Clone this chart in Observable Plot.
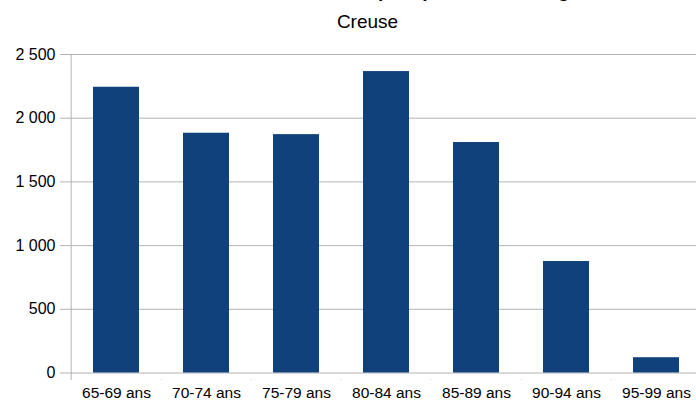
<!DOCTYPE html>
<html>
<head>
<meta charset="utf-8">
<script src="https://cdn.jsdelivr.net/npm/d3@7"></script>
<script src="https://cdn.jsdelivr.net/npm/@observablehq/plot@0.6"></script>
<style>
  html, body { margin: 0; padding: 0; background: #fff; }
  svg { display: block; }
</style>
</head>
<body>
<div id="chart"></div>
<script>
const categories = ["65-69 ans", "70-74 ans", "75-79 ans", "80-84 ans", "85-89 ans", "90-94 ans", "95-99 ans"];
const values = [2243, 1882, 1871, 2366, 1809, 875, 120];
const yTicks = [0, 500, 1000, 1500, 2000, 2500];
const title = "Personnes de 65 ans ou plus par tranche d'âge";
const subtitle = "Creuse";

const data = categories.map((c, i) => ({category: c, value: values[i]}));
const fmt = d3.formatLocale({decimal: ",", thousands: " ", grouping: [3], currency: ["", " €"]}).format(",d");

const W = 696, H = 401;
const mLeft = 68, bandW = 90.7;
const mTop = 54, yBottom = 372.5;
const frameH = yBottom - mTop;
const grid = "#b3b3b3";
const font = "'Liberation Sans', Arial, sans-serif";

const chart = Plot.plot({
  width: W,
  height: H,
  marginTop: mTop,
  marginBottom: H - yBottom,
  marginLeft: mLeft,
  marginRight: 0,
  style: {fontFamily: font, background: "#fff", color: "#000"},
  x: {domain: categories, range: [mLeft, mLeft + bandW * categories.length], paddingInner: 0.49, paddingOuter: 0.245, align: 0.5},
  y: {domain: [0, 2500]},
  marks: [
    Plot.ruleY(yTicks, {y: d => d, stroke: grid, strokeWidth: 1, insetLeft: -8}),
    Plot.barY(data, {x: "category", y: "value", fill: "#10417a"}),
    Plot.ruleX(categories.slice(1), {x: d => d, dx: -bandW / 2, stroke: grid, insetTop: frameH - 0.5, dy: 7.5}),
    Plot.ruleX([categories[0]], {x: d => d, dx: -bandW / 2, stroke: grid, insetBottom: -7.5}),
    Plot.axisY({ticks: yTicks, tickFormat: fmt, tickSize: 0, tickPadding: 13, fontSize: 16, fill: "#000", label: null}),
    Plot.axisX({tickSize: 0, tickPadding: 14, fontSize: 15.5, fill: "#000", label: null}),
    Plot.text([subtitle], {frameAnchor: "top", lineAnchor: "middle", dy: -33, dx: -15, fontSize: 19, fill: "#000"}),
    Plot.text([title], {frameAnchor: "top", dy: -58, dx: -15, lineAnchor: "bottom", fontSize: 19, fontWeight: "bold", fill: "#000"})
  ]
});
document.getElementById("chart").appendChild(chart);
</script>
</body>
</html>
